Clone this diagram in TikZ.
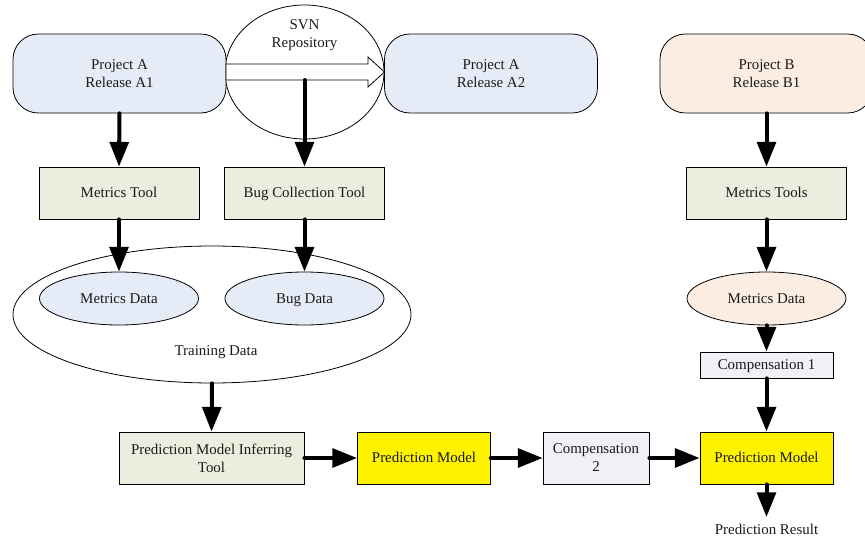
\documentclass[tikz,border=0pt]{standalone}
\usepackage{fontspec}
\setmainfont{Liberation Serif}
\usetikzlibrary{arrows.meta,shapes.geometric}
\definecolor{blueA}{RGB}{230,236,247}
\definecolor{peachB}{RGB}{252,237,226}
\definecolor{greenT}{RGB}{235,238,222}
\definecolor{lavC}{RGB}{240,240,246}
\tikzset{
  txt/.style={font=\fontsize{11.2}{13.5}\selectfont, align=center, text=black!90},
  one/.style={text height=0.88em, text depth=0.16em},
  rel/.style={txt, draw, line width=0.6pt, rounded corners=19pt, minimum width=213*0.75pt, minimum height=79*0.75pt, inner sep=0pt},
  tool/.style={txt, draw, line width=0.6pt, fill=greenT, minimum width=160*0.75pt, minimum height=52*0.75pt, inner sep=0pt},
  dat/.style={txt, one, ellipse, draw, line width=0.6pt, minimum width=159*0.75pt, minimum height=53*0.75pt, inner sep=0pt},
  pm/.style={txt, one, draw, line width=0.6pt, fill=yellow, minimum width=133*0.75pt, minimum height=52*0.75pt, inner sep=0pt},
  comp/.style={txt, draw, line width=0.6pt, fill=lavC, inner sep=0pt},
  flow/.style={line width=3pt, line cap=round, -{Triangle[length=18.5pt,width=14pt]}}
}
\begin{document}
\begin{tikzpicture}[x=0.75pt,y=-0.75pt]
\useasboundingbox (0,0) rectangle (865,539);
\clip (0,0) rectangle (865,539);
% SVN repository
\node[txt, ellipse, draw, line width=0.6pt, minimum width=159*0.75pt, minimum height=134*0.75pt, inner sep=0pt] (svn) at (304.5,72) {};
\node[txt] (svntext) at (304.5,35) {SVN\\Repository};
% release boxes
\node[rel, fill=blueA] (a1) at (119.5,73.5) {Project A\\Release A1};
\node[rel, fill=blueA] (a2) at (491,73.5) {Project A\\Release A2};
\node[rel, fill=peachB] (b1) at (766.5,73.5) {Project B\\Release B1};
% block arrow from A1 to A2
\draw[line width=0.6pt, fill=white] (226,64) -- (368,64) -- (368,57) -- (384.5,72) -- (368,87) -- (368,80) -- (226,80) -- cycle;
\coordinate (svnout) at (304.5,80);
% tools
\node[tool, one] (mt) at (119,193) {Metrics Tool};
\node[tool, one] (bct) at (304.5,193) {Bug Collection Tool};
\node[tool, one] (mtb) at (766.5,193) {Metrics Tools};
% training data
\node[ellipse, draw, line width=0.6pt, minimum width=398*0.75pt, minimum height=137*0.75pt, inner sep=0pt] (train) at (212,314.5) {};
\node[txt, one] (traintext) at (216,351) {Training Data};
\node[dat, fill=blueA] (md) at (119,298.5) {Metrics Data};
\node[dat, fill=blueA] (bd) at (304.5,298.5) {Bug Data};
\node[dat, fill=peachB] (mdb) at (766.5,298.5) {Metrics Data};
% compensation 1
\node[comp, one, minimum width=133*0.75pt, minimum height=26*0.75pt] (c1) at (766.5,365) {Compensation 1};
% bottom row
\node[tool, minimum width=185*0.75pt] (pmit) at (211.5,458) {Prediction Model Inferring\\Tool};
\node[pm] (pm1) at (424,458) {Prediction Model};
\node[comp, minimum width=106*0.75pt, minimum height=52*0.75pt] (c2) at (596,458) {Compensation\\2};
\node[pm] (pm2) at (766.5,458) {Prediction Model};
\node[txt, one] (res) at (766.5,530) {Prediction Result};
\coordinate (resin) at (766.5,517);
% connectors
\draw[flow] (a1.south) -- (mt.north);
\draw[flow] (svnout) -- (bct.north);
\draw[flow] (b1.south) -- (mtb.north);
\draw[flow] (mt.south) -- (md.north);
\draw[flow] (bct.south) -- (bd.north);
\draw[flow] (mtb.south) -- (mdb.north);
\draw[flow] (mdb.south) -- (c1.north);
\draw[flow] (c1.south) -- (pm2.north);
\draw[flow] (train.south) -- (pmit.north);
\draw[flow] (pmit.east) -- (pm1.west);
\draw[flow] (pm1.east) -- (c2.west);
\draw[flow] (c2.east) -- (pm2.west);
\draw[flow] (pm2.south) -- (resin);
\end{tikzpicture}
\end{document}
